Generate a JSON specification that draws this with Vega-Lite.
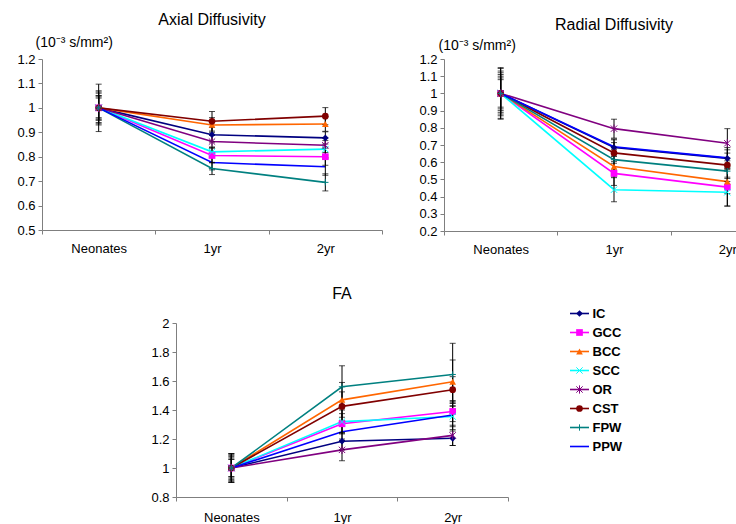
{
  "$schema": "https://vega.github.io/schema/vega-lite/v6.json",
  "padding": {"left": 16, "top": 12, "right": 0, "bottom": 0},
  "background": "white",
  "config": {
    "font": "Liberation Sans",
    "view": {"stroke": null},
    "title": {"fontSize": 16, "fontWeight": "normal", "color": "#000000", "anchor": "middle"},
    "axis": {
      "domainColor": "#7f7f7f",
      "tickColor": "#7f7f7f",
      "tickSize": 4,
      "grid": false,
      "labelFont": "Liberation Sans",
      "labelFontSize": 13,
      "labelColor": "#000000",
      "titleColor": "#000000"
    }
  },
  "datasets": {
    "dti": [
      {"measure": "AD", "series": "IC", "age": "Neonates", "value": 1.0, "err": 0.06},
      {"measure": "AD", "series": "IC", "age": "1yr", "value": 0.89, "err": 0.03},
      {"measure": "AD", "series": "IC", "age": "2yr", "value": 0.877, "err": 0.025},
      {"measure": "AD", "series": "GCC", "age": "Neonates", "value": 1.0, "err": 0.05},
      {"measure": "AD", "series": "GCC", "age": "1yr", "value": 0.805, "err": 0.03},
      {"measure": "AD", "series": "GCC", "age": "2yr", "value": 0.8, "err": 0.035},
      {"measure": "AD", "series": "BCC", "age": "Neonates", "value": 1.0, "err": 0.045},
      {"measure": "AD", "series": "BCC", "age": "1yr", "value": 0.93, "err": 0.03},
      {"measure": "AD", "series": "BCC", "age": "2yr", "value": 0.934, "err": 0.03},
      {"measure": "AD", "series": "SCC", "age": "Neonates", "value": 1.0, "err": 0.065},
      {"measure": "AD", "series": "SCC", "age": "1yr", "value": 0.82, "err": 0.02},
      {"measure": "AD", "series": "SCC", "age": "2yr", "value": 0.831, "err": 0.035},
      {"measure": "AD", "series": "OR", "age": "Neonates", "value": 1.0, "err": 0.04},
      {"measure": "AD", "series": "OR", "age": "1yr", "value": 0.862, "err": 0.025},
      {"measure": "AD", "series": "OR", "age": "2yr", "value": 0.847, "err": 0.03},
      {"measure": "AD", "series": "CST", "age": "Neonates", "value": 1.0, "err": 0.05},
      {"measure": "AD", "series": "CST", "age": "1yr", "value": 0.945, "err": 0.04},
      {"measure": "AD", "series": "CST", "age": "2yr", "value": 0.966, "err": 0.035},
      {"measure": "AD", "series": "FPW", "age": "Neonates", "value": 1.0, "err": 0.097},
      {"measure": "AD", "series": "FPW", "age": "1yr", "value": 0.752, "err": 0.025},
      {"measure": "AD", "series": "FPW", "age": "2yr", "value": 0.695, "err": 0.035},
      {"measure": "AD", "series": "PPW", "age": "Neonates", "value": 1.0, "err": 0.07},
      {"measure": "AD", "series": "PPW", "age": "1yr", "value": 0.776, "err": 0.03},
      {"measure": "AD", "series": "PPW", "age": "2yr", "value": 0.759, "err": 0.035},

      {"measure": "RD", "series": "IC", "age": "Neonates", "value": 1.0, "err": 0.15},
      {"measure": "RD", "series": "IC", "age": "1yr", "value": 0.685, "err": 0.05},
      {"measure": "RD", "series": "IC", "age": "2yr", "value": 0.622, "err": 0.05},
      {"measure": "RD", "series": "GCC", "age": "Neonates", "value": 1.0, "err": 0.1},
      {"measure": "RD", "series": "GCC", "age": "1yr", "value": 0.535, "err": 0.07},
      {"measure": "RD", "series": "GCC", "age": "2yr", "value": 0.455, "err": 0.11},
      {"measure": "RD", "series": "BCC", "age": "Neonates", "value": 1.0, "err": 0.12},
      {"measure": "RD", "series": "BCC", "age": "1yr", "value": 0.575, "err": 0.06},
      {"measure": "RD", "series": "BCC", "age": "2yr", "value": 0.487, "err": 0.07},
      {"measure": "RD", "series": "SCC", "age": "Neonates", "value": 1.0, "err": 0.13},
      {"measure": "RD", "series": "SCC", "age": "1yr", "value": 0.44, "err": 0.07},
      {"measure": "RD", "series": "SCC", "age": "2yr", "value": 0.425, "err": 0.08},
      {"measure": "RD", "series": "OR", "age": "Neonates", "value": 1.0, "err": 0.145},
      {"measure": "RD", "series": "OR", "age": "1yr", "value": 0.795, "err": 0.055},
      {"measure": "RD", "series": "OR", "age": "2yr", "value": 0.71, "err": 0.085},
      {"measure": "RD", "series": "CST", "age": "Neonates", "value": 1.0, "err": 0.09},
      {"measure": "RD", "series": "CST", "age": "1yr", "value": 0.654, "err": 0.06},
      {"measure": "RD", "series": "CST", "age": "2yr", "value": 0.583, "err": 0.07},
      {"measure": "RD", "series": "FPW", "age": "Neonates", "value": 1.0, "err": 0.08},
      {"measure": "RD", "series": "FPW", "age": "1yr", "value": 0.615, "err": 0.06},
      {"measure": "RD", "series": "FPW", "age": "2yr", "value": 0.548, "err": 0.06},
      {"measure": "RD", "series": "PPW", "age": "Neonates", "value": 1.0, "err": 0.11},
      {"measure": "RD", "series": "PPW", "age": "1yr", "value": 0.69, "err": 0.04},
      {"measure": "RD", "series": "PPW", "age": "2yr", "value": 0.625, "err": 0.06},

      {"measure": "FA", "series": "IC", "age": "Neonates", "value": 1.0, "err": 0.1},
      {"measure": "FA", "series": "IC", "age": "1yr", "value": 1.185, "err": 0.06},
      {"measure": "FA", "series": "IC", "age": "2yr", "value": 1.205, "err": 0.05},
      {"measure": "FA", "series": "GCC", "age": "Neonates", "value": 1.0, "err": 0.09},
      {"measure": "FA", "series": "GCC", "age": "1yr", "value": 1.305, "err": 0.07},
      {"measure": "FA", "series": "GCC", "age": "2yr", "value": 1.39, "err": 0.07},
      {"measure": "FA", "series": "BCC", "age": "Neonates", "value": 1.0, "err": 0.07},
      {"measure": "FA", "series": "BCC", "age": "1yr", "value": 1.47, "err": 0.12},
      {"measure": "FA", "series": "BCC", "age": "2yr", "value": 1.595, "err": 0.15},
      {"measure": "FA", "series": "SCC", "age": "Neonates", "value": 1.0, "err": 0.06},
      {"measure": "FA", "series": "SCC", "age": "1yr", "value": 1.32, "err": 0.08},
      {"measure": "FA", "series": "SCC", "age": "2yr", "value": 1.355, "err": 0.07},
      {"measure": "FA", "series": "OR", "age": "Neonates", "value": 1.0, "err": 0.06},
      {"measure": "FA", "series": "OR", "age": "1yr", "value": 1.125, "err": 0.075},
      {"measure": "FA", "series": "OR", "age": "2yr", "value": 1.225, "err": 0.07},
      {"measure": "FA", "series": "CST", "age": "Neonates", "value": 1.0, "err": 0.08},
      {"measure": "FA", "series": "CST", "age": "1yr", "value": 1.425, "err": 0.1},
      {"measure": "FA", "series": "CST", "age": "2yr", "value": 1.54, "err": 0.09},
      {"measure": "FA", "series": "FPW", "age": "Neonates", "value": 1.0, "err": 0.1},
      {"measure": "FA", "series": "FPW", "age": "1yr", "value": 1.56, "err": 0.145},
      {"measure": "FA", "series": "FPW", "age": "2yr", "value": 1.645, "err": 0.215},
      {"measure": "FA", "series": "PPW", "age": "Neonates", "value": 1.0, "err": 0.09},
      {"measure": "FA", "series": "PPW", "age": "1yr", "value": 1.25, "err": 0.06},
      {"measure": "FA", "series": "PPW", "age": "2yr", "value": 1.365, "err": 0.1}
    ]
  },
  "vconcat": [
    {
      "spacing": 35,
      "hconcat": [
        {
          "title": {"text": "Axial Diffusivity", "offset": 7},
          "width": 340,
          "height": 171,
          "data": {"name": "dti"},
          "transform": [{"filter": "datum.measure == 'AD'"}],
          "encoding": {
            "x": {"field": "age", "type": "ordinal", "sort": ["Neonates", "1yr", "2yr"],
                  "scale": {"paddingInner": 0, "paddingOuter": 0},
                  "axis": {"title": null, "labelAngle": 0, "tickBand": "extent", "labelPadding": 8, "tickSize": 4}},
            "y": {"field": "value", "type": "quantitative",
                  "scale": {"domain": [0.5, 1.2], "nice": false, "zero": false},
                  "axis": {"values": [0.5, 0.6, 0.7, 0.8, 0.9, 1.0, 1.1, 1.2], "format": "~g", "labelPadding": 3,
                           "title": "(10⁻³ s/mm²)", "titleAngle": 0, "titleAlign": "left", "titleBaseline": "alphabetic",
                           "titleX": -7, "titleY": -13, "titleFontSize": 14, "titleFontWeight": "normal"}}
          },
          "layer": [
            {"mark": {"type": "line", "strokeWidth": 1.6},
             "encoding": {"color": {"field": "series", "type": "nominal", "legend": null,
                                     "scale": {"domain": ["IC", "GCC", "BCC", "SCC", "OR", "CST", "FPW", "PPW"],
                                               "range": ["#000080", "#FF00FF", "#FF6600", "#00FFFF", "#800080", "#800000", "#008080", "#0000FF"]}},
                          "detail": {"field": "series"}}},
            {"mark": {"type": "errorbar", "color": "#000000", "thickness": 1, "ticks": {"size": 6, "thickness": 1, "color": "#000000"}},
             "encoding": {"yError": {"field": "err"}, "detail": {"field": "series"}}},
            {"transform": [{"filter": {"field": "series", "oneOf": ["IC", "GCC", "BCC", "CST"]}}],
             "mark": {"type": "point", "filled": true, "opacity": 1, "size": 45},
             "encoding": {"color": {"field": "series", "type": "nominal", "legend": null},
                          "shape": {"field": "series", "type": "nominal", "legend": null,
                                    "scale": {"domain": ["IC", "GCC", "BCC", "SCC", "OR", "CST", "FPW", "PPW"],
                                              "range": ["diamond", "square", "triangle-up", "M-1,-1L1,1M-1,1L1,-1", "M-1,-1L1,1M-1,1L1,-1M0,-1.3L0,1.3", "circle", "M0,-1L0,1M-1,0L1,0", "M0,0"]}}}},
            {"transform": [{"filter": {"field": "series", "oneOf": ["SCC", "OR", "FPW"]}}],
             "mark": {"type": "point", "filled": false, "opacity": 1, "size": 40, "strokeWidth": 1},
             "encoding": {"color": {"field": "series", "type": "nominal", "legend": null},
                          "shape": {"field": "series", "type": "nominal", "legend": null}}}
          ]
        },
        {
          "title": {"text": "Radial Diffusivity", "offset": 5},
          "width": 340,
          "height": 172,
          "data": {"name": "dti"},
          "transform": [{"filter": "datum.measure == 'RD'"}],
          "encoding": {
            "x": {"field": "age", "type": "ordinal", "sort": ["Neonates", "1yr", "2yr"],
                  "scale": {"paddingInner": 0, "paddingOuter": 0},
                  "axis": {"title": null, "labelAngle": 0, "tickBand": "extent", "labelPadding": 8, "tickSize": 4}},
            "y": {"field": "value", "type": "quantitative",
                  "scale": {"domain": [0.2, 1.2], "nice": false, "zero": false},
                  "axis": {"values": [0.2, 0.3, 0.4, 0.5, 0.6, 0.7, 0.8, 0.9, 1.0, 1.1, 1.2], "format": "~g", "labelPadding": 3,
                           "title": "(10⁻³ s/mm²)", "titleAngle": 0, "titleAlign": "left", "titleBaseline": "alphabetic",
                           "titleX": -6, "titleY": -10, "titleFontSize": 14, "titleFontWeight": "normal"}}
          },
          "layer": [
            {"mark": {"type": "line", "strokeWidth": 1.6},
             "encoding": {"color": {"field": "series", "type": "nominal", "legend": null}, "detail": {"field": "series"}}},
            {"mark": {"type": "errorbar", "color": "#000000", "thickness": 1, "ticks": {"size": 6, "thickness": 1, "color": "#000000"}},
             "encoding": {"yError": {"field": "err"}, "detail": {"field": "series"}}},
            {"transform": [{"filter": {"field": "series", "oneOf": ["IC", "GCC", "BCC", "CST"]}}],
             "mark": {"type": "point", "filled": true, "opacity": 1, "size": 45},
             "encoding": {"color": {"field": "series", "type": "nominal", "legend": null},
                          "shape": {"field": "series", "type": "nominal", "legend": null}}},
            {"transform": [{"filter": {"field": "series", "oneOf": ["SCC", "OR", "FPW"]}}],
             "mark": {"type": "point", "filled": false, "opacity": 1, "size": 40, "strokeWidth": 1},
             "encoding": {"color": {"field": "series", "type": "nominal", "legend": null},
                          "shape": {"field": "series", "type": "nominal", "legend": null}}}
          ]
        }
      ]
    },
    {
      "spacing": 60,
      "hconcat": [
        {
          "width": 48,
          "height": 10,
          "data": {"values": [{}]},
          "mark": {"type": "rect", "opacity": 0},
          "encoding": {}
        },
        {
          "title": {"text": "FA", "offset": 15},
          "width": 332,
          "height": 174,
          "data": {"name": "dti"},
          "transform": [{"filter": "datum.measure == 'FA'"}],
          "encoding": {
            "x": {"field": "age", "type": "ordinal", "sort": ["Neonates", "1yr", "2yr"],
                  "scale": {"paddingInner": 0, "paddingOuter": 0},
                  "axis": {"title": null, "labelAngle": 0, "tickBand": "extent", "labelPadding": 10, "tickSize": 4}},
            "y": {"field": "value", "type": "quantitative",
                  "scale": {"domain": [0.8, 2.0], "nice": false, "zero": false},
                  "axis": {"values": [0.8, 1.0, 1.2, 1.4, 1.6, 1.8, 2.0], "format": "~g", "labelPadding": 3, "title": null}}
          },
          "layer": [
            {"mark": {"type": "line", "strokeWidth": 1.6},
             "encoding": {"color": {"field": "series", "type": "nominal", "legend": null}, "detail": {"field": "series"}}},
            {"mark": {"type": "errorbar", "color": "#000000", "thickness": 1, "ticks": {"size": 6, "thickness": 1, "color": "#000000"}},
             "encoding": {"yError": {"field": "err"}, "detail": {"field": "series"}}},
            {"transform": [{"filter": {"field": "series", "oneOf": ["IC", "GCC", "BCC", "CST"]}}],
             "mark": {"type": "point", "filled": true, "opacity": 1, "size": 45},
             "encoding": {"color": {"field": "series", "type": "nominal", "legend": null},
                          "shape": {"field": "series", "type": "nominal", "legend": null}}},
            {"transform": [{"filter": {"field": "series", "oneOf": ["SCC", "OR", "FPW"]}}],
             "mark": {"type": "point", "filled": false, "opacity": 1, "size": 40, "strokeWidth": 1},
             "encoding": {"color": {"field": "series", "type": "nominal", "legend": null},
                          "shape": {"field": "series", "type": "nominal", "legend": null}}}
          ]
        },
        {
          "width": 19,
          "height": 152,
          "data": {"name": "dti"},
          "transform": [{"filter": "datum.measure == 'FA' && datum.age == 'Neonates'"}],
          "encoding": {
            "y": {"field": "series", "type": "nominal",
                  "sort": ["IC", "GCC", "BCC", "SCC", "OR", "CST", "FPW", "PPW"],
                  "scale": {"type": "point", "padding": 0.5, "range": [-19, 133]},
                  "axis": {"orient": "right", "title": null, "domain": false, "ticks": false,
                           "labelFontWeight": "bold", "labelFontSize": 13, "labelPadding": 3}}
          },
          "layer": [
            {"mark": {"type": "rule", "strokeWidth": 1.6},
             "encoding": {"color": {"field": "series", "type": "nominal", "legend": null}}},
            {"transform": [{"filter": {"field": "series", "oneOf": ["IC", "GCC", "BCC", "CST"]}}],
             "mark": {"type": "point", "filled": true, "opacity": 1, "size": 45},
             "encoding": {"color": {"field": "series", "type": "nominal", "legend": null},
                          "shape": {"field": "series", "type": "nominal", "legend": null}}},
            {"transform": [{"filter": {"field": "series", "oneOf": ["SCC", "OR", "FPW"]}}],
             "mark": {"type": "point", "filled": false, "opacity": 1, "size": 40, "strokeWidth": 1},
             "encoding": {"color": {"field": "series", "type": "nominal", "legend": null},
                          "shape": {"field": "series", "type": "nominal", "legend": null}}}
          ]
        }
      ]
    }
  ],
  "spacing": 30
}
